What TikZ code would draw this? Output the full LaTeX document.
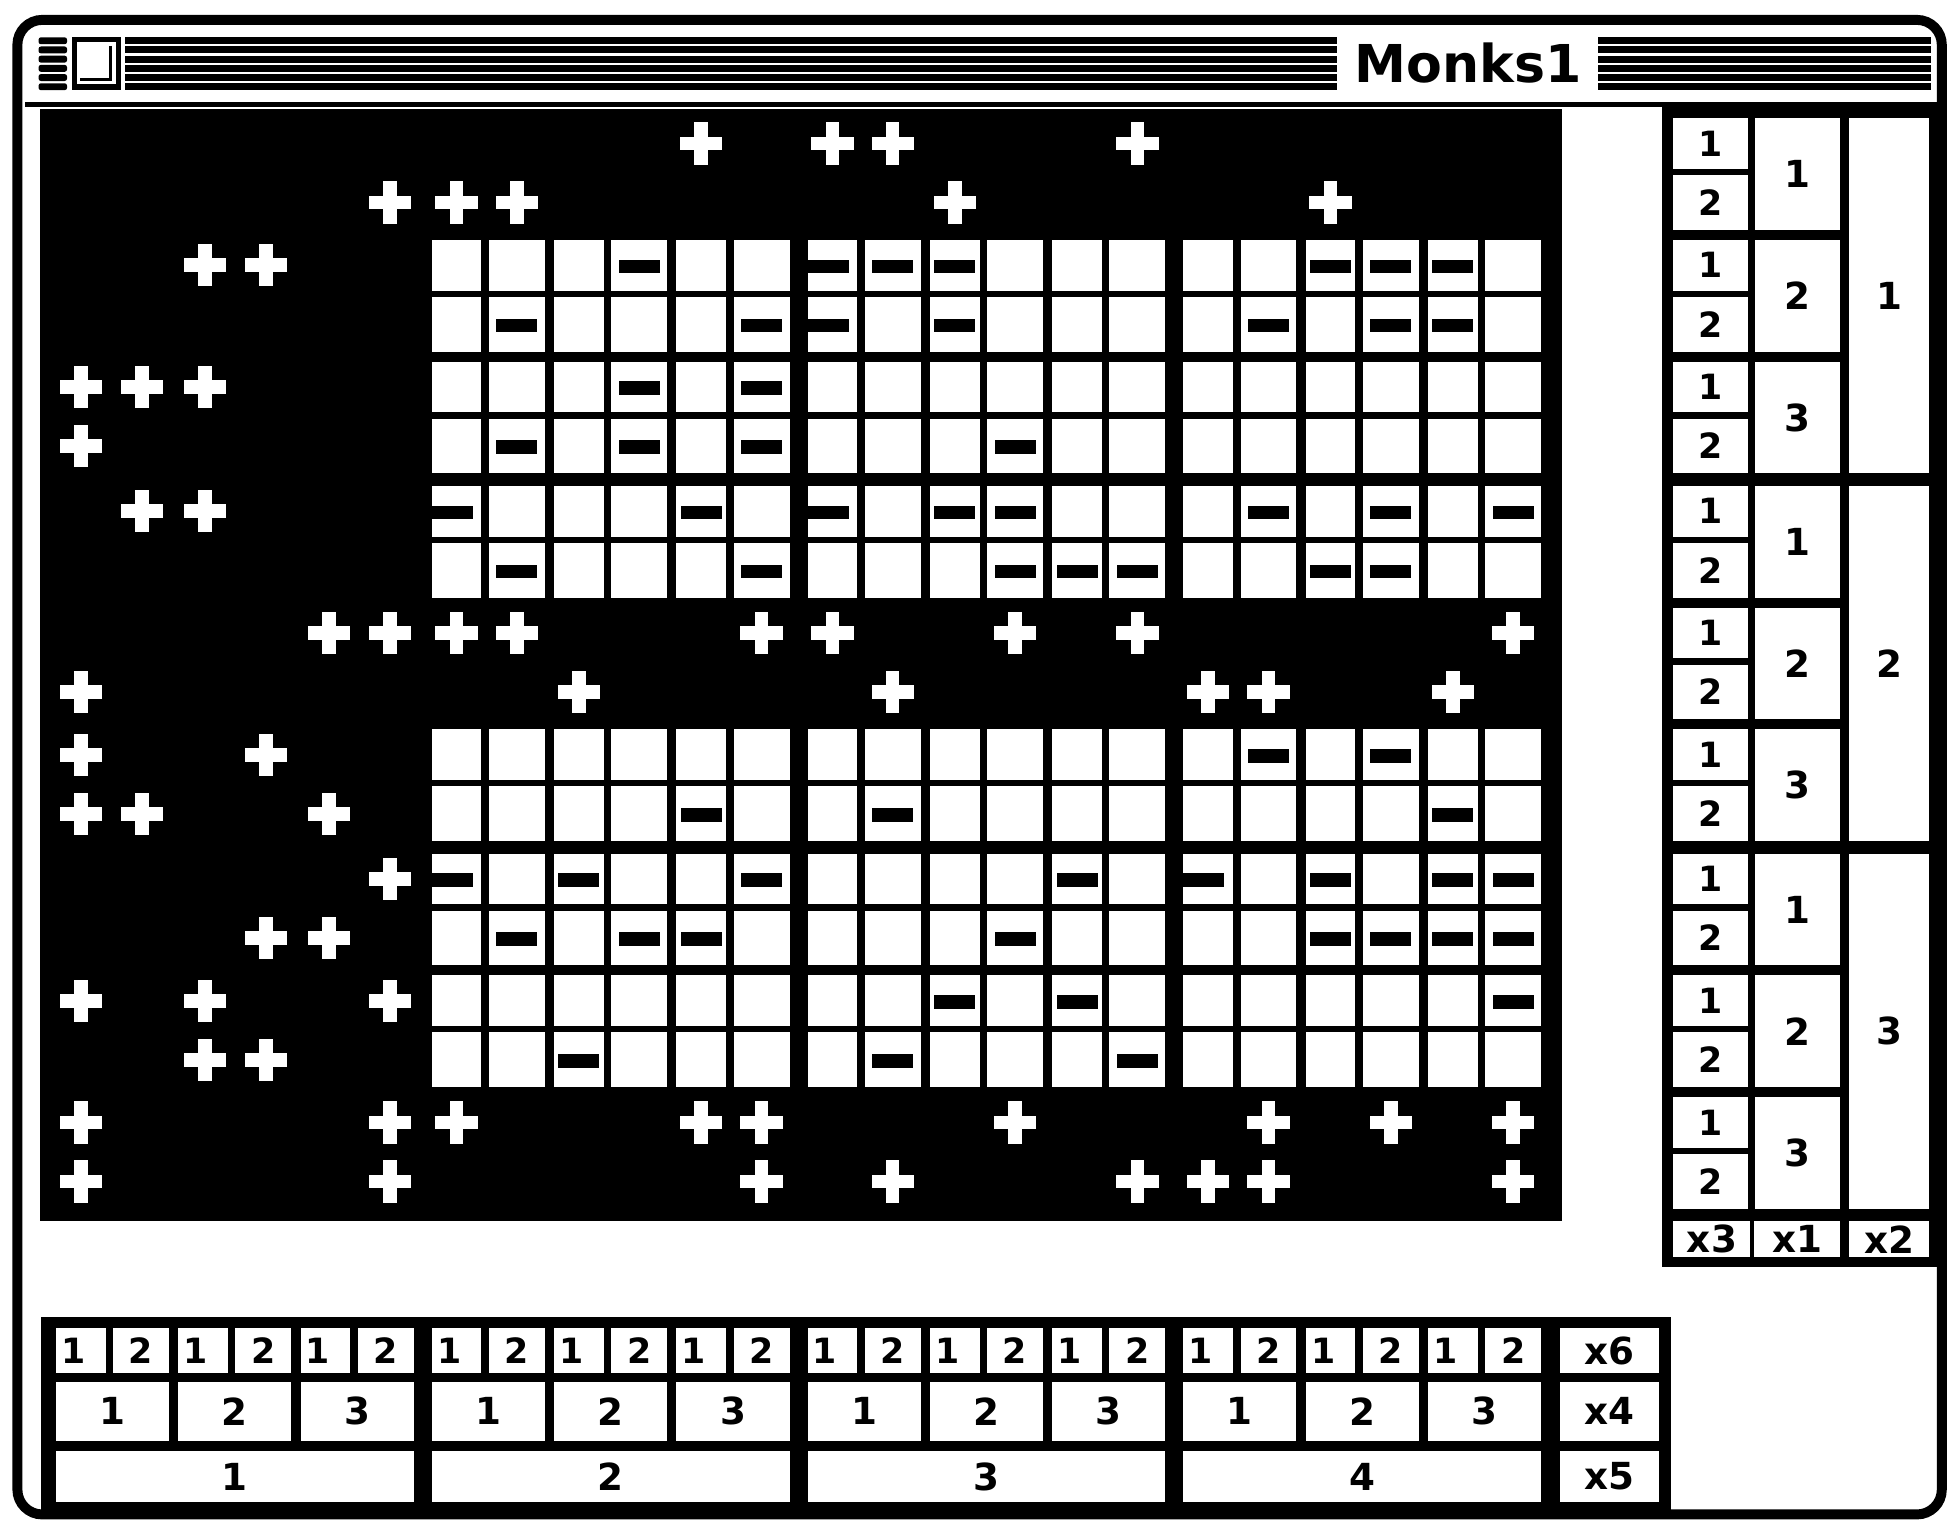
\documentclass[tikz,border=0pt]{standalone}
\usepackage{fontspec}
\setmainfont{DejaVu Sans}
\begin{document}
\begin{tikzpicture}[x=0.5pt,y=-0.5pt,
  declare function={
    colx(\c)=45+302.5*floor(\c/6)+98.5*floor(mod(\c,6)/2)+46*mod(\c,2);
    colw(\c)=40+5*mod(\c,2);
    rowy(\r)=95+296*floor(\r/6)+98*floor(mod(\r,6)/2)+46*mod(\r,2);
    rowh(\r)=41+3*mod(\r,2);
  },
  ink/.style={fill=black},
  paper/.style={fill=white},
  digit/.style={font=\fontsize{14pt}{14pt}\selectfont\bfseries, inner sep=0pt, text=black},
  bigdigit/.style={font=\fontsize{15pt}{15pt}\selectfont\bfseries, inner sep=0pt, text=black},
  titletext/.style={font=\fontsize{21pt}{21pt}\selectfont\bfseries, inner sep=0pt, text=black},
]
\useasboundingbox (0,0) rectangle (1568,1223);
\fill[white] (0,0) rectangle (1568,1223);

% ---------- window frame ----------
\draw[line width=4pt, rounded corners=10pt] (14,16) rectangle (1563,1219);

% ---------- title bar ----------
\fill[ink] (20,82) rectangle (1560,86);
\foreach \i in {0,...,5}
  \fill[ink, rounded corners=1pt] (31,{30+\i*7.4}) rectangle (54,{30+\i*7.4+5.6});
\fill[ink] (58,30) rectangle (97,72.6);
\fill[paper] (62,34) rectangle (93,68);
\draw[black, line width=1pt] (89,37) -- (89,64) -- (64,64);
\foreach \i in {0,...,5} {
  \fill[ink] (101,{30+\i*7.4}) rectangle (1076,{30+\i*7.4+5.6});
  \fill[ink] (1286,{30+\i*7.4}) rectangle (1554,{30+\i*7.4+5.6});
}
\node[titletext, anchor=west] (title) at (1090,51) {Monks1};

% ---------- black panel ----------
\fill[ink] (32,88) rectangle (1257,983);

% white cells
\foreach \r in {2,3,4,5,6,7,10,11,12,13,14,15}
  \foreach \c in {6,...,23}
    \fill[paper] ({colx(\c)},{rowy(\r)}) rectangle ({colx(\c)+colw(\c)},{rowy(\r)+rowh(\r)});

% dashes
\foreach \r/\c in {2/9,2/12,2/13,2/14,2/20,2/21,2/22,
                   3/7,3/11,3/12,3/14,3/19,3/21,3/22,
                   4/9,4/11,
                   5/7,5/9,5/11,5/15,
                   6/6,6/10,6/12,6/14,6/15,6/19,6/21,6/23,
                   7/7,7/11,7/15,7/16,7/17,7/20,7/21,
                   10/19,10/21,
                   11/10,11/13,11/22,
                   12/6,12/8,12/11,12/16,12/18,12/20,12/22,12/23,
                   13/7,13/9,13/10,13/15,13/20,13/21,13/22,13/23,
                   14/14,14/16,14/23,
                   15/8,15/13,15/17} {
  \pgfmathsetmacro\yc{rowy(\r)+rowh(\r)/2+1}
  \pgfmathsetmacro\xa{ifthenelse(mod(\c,6)==0, colx(\c), colx(\c)+colw(\c)/2-16.5)}
  \fill[ink] (\xa,{\yc-5.5}) rectangle ({\xa+33},{\yc+5.5});
}

% pluses
\foreach \r/\c in {0/10,0/12,0/13,0/17,
                   1/5,1/6,1/7,1/14,1/20,
                   2/2,2/3,
                   4/0,4/1,4/2,
                   5/0,
                   6/1,6/2,
                   8/4,8/5,8/6,8/7,8/11,8/12,8/15,8/17,8/23,
                   9/0,9/8,9/13,9/18,9/19,9/22,
                   10/0,10/3,
                   11/0,11/1,11/4,
                   12/5,
                   13/3,13/4,
                   14/0,14/2,14/5,
                   15/2,15/3,
                   16/0,16/5,16/6,16/10,16/11,16/15,16/19,16/21,16/23,
                   17/0,17/5,17/11,17/13,17/17,17/18,17/19,17/23} {
  \pgfmathsetmacro\xc{colx(\c)+colw(\c)/2+ifthenelse(\c<6, 0.7*mod(\c,6), 0)}
  \pgfmathsetmacro\yc{rowy(\r)+rowh(\r)/2}
  \fill[paper] ({\xc-17},{\yc-5.5}) rectangle ({\xc+17},{\yc+5.5});
  \fill[paper] ({\xc-5.5},{\yc-17}) rectangle ({\xc+5.5},{\yc+17});
}

% ---------- right legend ----------
\fill[ink] (1338,86) rectangle (1562,1020);
\foreach \r in {0,...,17} {
  \pgfmathsetmacro\ya{rowy(\r)}
  \pgfmathsetmacro\yb{rowy(\r)+rowh(\r)}
  \pgfmathtruncatemacro\lab{mod(\r,2)+1}
  \fill[paper] (1347,\ya) rectangle (1407,\yb);
  \node[digit] (ra\r) at (1377,{(\ya+\yb)/2}) {\lab};
}
\foreach \G in {0,1,2} \foreach \S in {0,1,2} {
  \pgfmathsetmacro\ya{rowy(6*\G+2*\S)}
  \pgfmathsetmacro\yb{rowy(6*\G+2*\S+1)+44}
  \pgfmathtruncatemacro\lab{\S+1}
  \fill[paper] (1413,\ya) rectangle (1481,\yb);
  \node[bigdigit] (rb\G\S) at (1447,{(\ya+\yb)/2}) {\lab};
}
\foreach \G in {0,1,2} {
  \pgfmathsetmacro\ya{rowy(6*\G)}
  \pgfmathsetmacro\yb{rowy(6*\G+5)+44}
  \pgfmathtruncatemacro\lab{\G+1}
  \fill[paper] (1488,\ya) rectangle (1553,\yb);
  \node[bigdigit] (rc\G) at (1520.5,{(\ya+\yb)/2}) {\lab};
}
\fill[paper] (1347,983) rectangle (1409,1012);
\fill[paper] (1412,983) rectangle (1481,1012);
\fill[paper] (1488,983) rectangle (1553,1012);
\node[bigdigit] (lx3) at (1378,997.5) {x3};
\node[bigdigit] (lx1) at (1446.5,997.5) {x1};
\node[bigdigit] (lx2) at (1520.5,997.5) {x2};

% ---------- bottom legend ----------
\fill[ink] (33,1060) rectangle (1345,1218);
\foreach \c in {0,...,23} {
  \pgfmathsetmacro\xa{colx(\c)}
  \pgfmathsetmacro\xb{colx(\c)+colw(\c)}
  \pgfmathtruncatemacro\lab{mod(\c,2)+1}
  \pgfmathsetmacro\xt{(\xa+\xb)/2-6*(1-mod(\c,2))}
  \fill[paper] (\xa,1069) rectangle (\xb,1105);
  \node[digit] (ba\c) at (\xt,1087) {\lab};
}
\foreach \g in {0,...,3} \foreach \s in {0,1,2} {
  \pgfmathsetmacro\xa{colx(6*\g+2*\s)}
  \pgfmathsetmacro\xb{colx(6*\g+2*\s+1)+45}
  \pgfmathtruncatemacro\lab{\s+1}
  \fill[paper] (\xa,1112) rectangle (\xb,1160);
  \node[bigdigit] (bb\g\s) at ({(\xa+\xb)/2},1136) {\lab};
}
\foreach \g in {0,...,3} {
  \pgfmathsetmacro\xa{colx(6*\g)}
  \pgfmathsetmacro\xb{colx(6*\g+5)+45}
  \pgfmathtruncatemacro\lab{\g+1}
  \fill[paper] (\xa,1168) rectangle (\xb,1209);
  \node[bigdigit] (bc\g) at ({(\xa+\xb)/2},1188.5) {\lab};
}
\fill[paper] (1256,1069) rectangle (1335,1105);
\fill[paper] (1256,1112) rectangle (1335,1160);
\fill[paper] (1256,1168) rectangle (1335,1209);
\node[bigdigit] (lx6) at (1295.5,1087) {x6};
\node[bigdigit] (lx4) at (1295.5,1136) {x4};
\node[bigdigit] (lx5) at (1295.5,1188.5) {x5};
\end{tikzpicture}
\end{document}
